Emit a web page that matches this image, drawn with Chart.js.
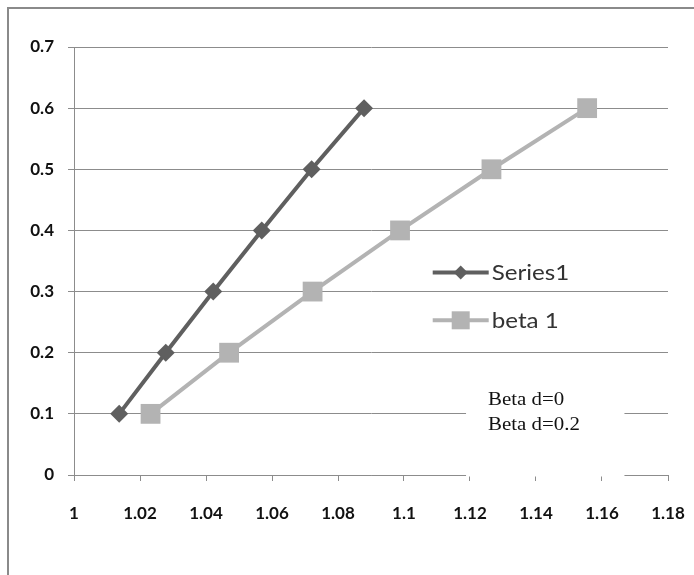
<!DOCTYPE html>
<html>
<head>
<meta charset="utf-8">
<script src="https://cdn.jsdelivr.net/npm/chart.js@4"></script>
<style>
html,body{margin:0;padding:0;background:#fff;}
#wrap{position:relative;width:694px;height:575px;}
</style>
</head>
<body>
<div id="wrap"><canvas id="c" width="694" height="575"></canvas></div>
<script>
// ---- data ----
const series1Name = 'Series1';
const series1X = [1.0137, 1.0278, 1.0422, 1.0569, 1.0720, 1.0879];
const series1Y = [0.1, 0.2, 0.3, 0.4, 0.5, 0.6];
const beta1Name = 'beta 1';
const beta1X = [1.0232, 1.0470, 1.0723, 1.0988, 1.1265, 1.1555];
const beta1Y = [0.1, 0.2, 0.3, 0.4, 0.5, 0.6];
const xTickLabels = ['1','1.02','1.04','1.06','1.08','1.1','1.12','1.14','1.16','1.18'];
const yTickLabels = ['0','0.1','0.2','0.3','0.4','0.5','0.6','0.7'];
const noteLines = ['Beta d=0', 'Beta d=0.2'];

const c1 = '#5f5f5f';
const c2 = '#b3b3b3';
const gridC = '#8c8c8c';

const toPts = (xs, ys) => xs.map((x, i) => ({x: x, y: ys[i]}));

function stretchedText(ctx, text, x, y, sx) {
  ctx.save();
  ctx.translate(x, y);
  ctx.scale(sx, 1);
  ctx.fillText(text, 0, 0);
  ctx.restore();
}

const framePlugin = {
  id: 'frame',
  beforeDraw(chart) {
    const ctx = chart.ctx;
    ctx.save();
    ctx.fillStyle = '#fff';
    ctx.fillRect(0, 0, chart.width, chart.height);
    ctx.strokeStyle = '#8a8a8a';
    ctx.lineWidth = 2;
    ctx.beginPath();
    ctx.moveTo(8, chart.height);
    ctx.lineTo(8, 8);
    ctx.lineTo(chart.width, 8);
    ctx.stroke();
    ctx.restore();
  }
};

const notePlugin = {
  id: 'note',
  beforeDatasetsDraw(chart) {
    const ctx = chart.ctx;
    const xs = chart.scales.x, ys = chart.scales.y;
    const left = xs.getPixelForValue(1.1188);
    const right = xs.getPixelForValue(1.1668);
    const top = ys.getPixelForValue(0.19);
    const bottom = ys.getPixelForValue(0) + 1.5;
    ctx.save();
    ctx.fillStyle = '#fff';
    ctx.fillRect(left, top, right - left, bottom - top);
    ctx.fillStyle = '#111';
    ctx.font = '19px "Liberation Serif", "Times New Roman", serif';
    ctx.textBaseline = 'alphabetic';
    ctx.textAlign = 'left';
    const tx = left + 22;
    stretchedText(ctx, noteLines[0], tx, ys.getPixelForValue(0.114), 1.1);
    stretchedText(ctx, noteLines[1], tx, ys.getPixelForValue(0.073), 1.1);
    ctx.restore();
  }
};

const legendPlugin = {
  id: 'customLegend',
  afterDatasetsDraw(chart) {
    const ctx = chart.ctx;
    const xs = chart.scales.x, ys = chart.scales.y;
    const lx0 = xs.getPixelForValue(1.1087);
    const lx1 = lx0 + 56;
    const items = [
      {name: series1Name, color: c1, y: ys.getPixelForValue(0.331), marker: 'diamond'},
      {name: beta1Name, color: c2, y: ys.getPixelForValue(0.253), marker: 'square'}
    ];
    ctx.save();
    items.forEach(it => {
      ctx.strokeStyle = it.color;
      ctx.lineWidth = 4;
      ctx.beginPath();
      ctx.moveTo(lx0, it.y);
      ctx.lineTo(lx1, it.y);
      ctx.stroke();
      const mx = (lx0 + lx1) / 2;
      ctx.fillStyle = it.color;
      ctx.beginPath();
      if (it.marker === 'diamond') {
        const r = 7;
        ctx.moveTo(mx - r, it.y);
        ctx.lineTo(mx, it.y - r);
        ctx.lineTo(mx + r, it.y);
        ctx.lineTo(mx, it.y + r);
        ctx.closePath();
      } else {
        const h = 9;
        ctx.rect(mx - h, it.y - h, 2 * h, 2 * h);
      }
      ctx.fill();
      ctx.fillStyle = '#333';
      ctx.font = '21px Lato, "Open Sans", sans-serif';
      ctx.textAlign = 'left';
      ctx.textBaseline = 'middle';
      stretchedText(ctx, it.name, lx1 + 3, it.y + 1, 1.15);
    });
    ctx.restore();
  }
};

const tickFont = {family: 'Lato, "Open Sans", sans-serif', size: 17, weight: 'bold'};

new Chart(document.getElementById('c'), {
  type: 'scatter',
  data: {
    datasets: [
      {
        label: series1Name,
        data: toPts(series1X, series1Y),
        showLine: true,
        borderColor: c1,
        backgroundColor: c1,
        borderWidth: 4,
        pointStyle: 'rectRot',
        pointRadius: 9,
        pointBorderWidth: 0,
        pointBackgroundColor: c1
      },
      {
        label: beta1Name,
        data: toPts(beta1X, beta1Y),
        showLine: true,
        borderColor: c2,
        backgroundColor: c2,
        borderWidth: 4,
        pointStyle: 'rect',
        pointRadius: 14,
        pointBorderWidth: 0,
        pointBackgroundColor: c2
      }
    ]
  },
  options: {
    responsive: false,
    animation: false,
    events: [],
    layout: {padding: {left: 0, right: 26, top: 47, bottom: 0}},
    plugins: {
      legend: {display: false},
      tooltip: {enabled: false}
    },
    scales: {
      x: {
        type: 'linear',
        min: 1,
        max: 1.18,
        afterFit(s) { s.height = 100; s.paddingLeft = 0; s.paddingRight = 0; },
        ticks: {
          stepSize: 0.02,
          color: '#111',
          font: tickFont,
          padding: 22,
          maxRotation: 0,
          autoSkip: false,
          callback: (v, i) => xTickLabels[i]
        },
        grid: {
          drawOnChartArea: false,
          drawTicks: true,
          tickLength: 6,
          color: gridC,
          lineWidth: 1
        },
        border: {display: true, color: gridC, width: 1}
      },
      y: {
        type: 'linear',
        min: 0,
        max: 0.7,
        afterFit(s) { s.width = 74; s.paddingTop = 0; s.paddingBottom = 0; },
        ticks: {
          stepSize: 0.1,
          color: '#111',
          font: tickFont,
          padding: 14,
          autoSkip: false,
          callback: (v, i) => yTickLabels[i]
        },
        grid: {
          drawOnChartArea: true,
          drawTicks: true,
          tickLength: 6,
          color: gridC,
          lineWidth: 1
        },
        border: {display: true, color: gridC, width: 1}
      }
    }
  },
  plugins: [framePlugin, notePlugin, legendPlugin]
});
</script>
</body>
</html>
